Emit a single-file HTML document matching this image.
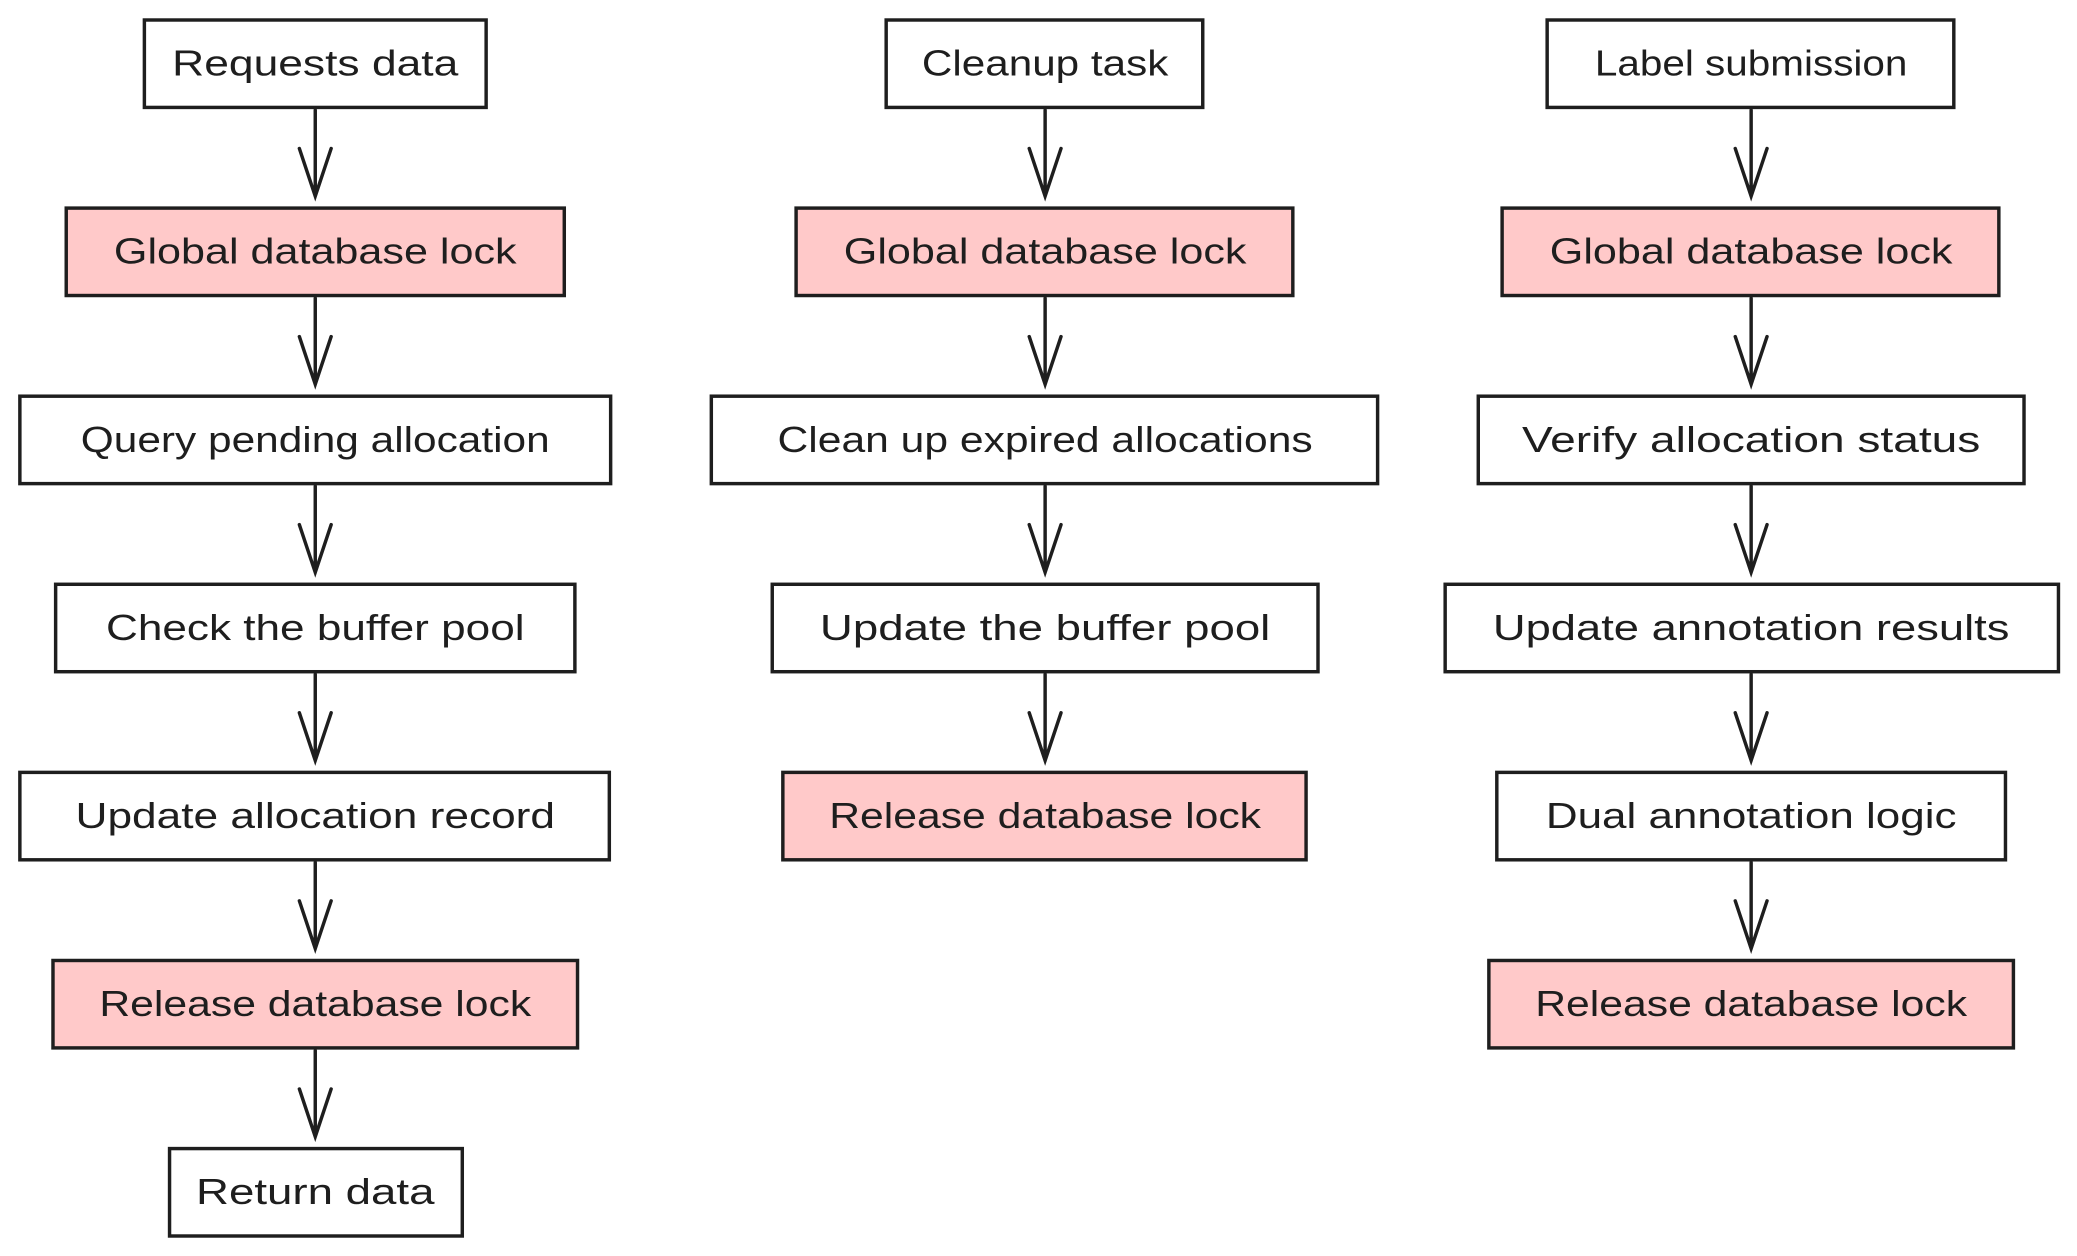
<!DOCTYPE html>
<html><head><meta charset="utf-8"><style>
html,body{margin:0;padding:0;background:#fff;}
svg{display:block}
text{font-family:"Liberation Sans",sans-serif;font-size:27px;fill:#1e1e1e;}
</style></head><body>
<svg width="2077" height="1256" viewBox="0 0 1568 948" xmlns="http://www.w3.org/2000/svg">
<g stroke="#1e1e1e" stroke-width="2.6" fill="#fff">
<rect x="109" y="15" width="258" height="66"/>
<rect x="50" y="157" width="376" height="66" fill="#ffc9c9"/>
<rect x="15" y="299" width="446" height="66"/>
<rect x="42" y="441" width="392" height="66"/>
<rect x="15" y="583" width="445" height="66"/>
<rect x="40" y="725" width="396" height="66" fill="#ffc9c9"/>
<rect x="128" y="867" width="221" height="66"/>
<rect x="669" y="15" width="239" height="66"/>
<rect x="601" y="157" width="375" height="66" fill="#ffc9c9"/>
<rect x="537" y="299" width="503" height="66"/>
<rect x="583" y="441" width="412" height="66"/>
<rect x="591" y="583" width="395" height="66" fill="#ffc9c9"/>
<rect x="1168" y="15" width="307" height="66"/>
<rect x="1134" y="157" width="375" height="66" fill="#ffc9c9"/>
<rect x="1116" y="299" width="412" height="66"/>
<rect x="1091" y="441" width="463" height="66"/>
<rect x="1130" y="583" width="384" height="66"/>
<rect x="1124" y="725" width="396" height="66" fill="#ffc9c9"/>
</g>
<g stroke="#1e1e1e" stroke-width="2.6" fill="none" stroke-linecap="round">
<path d="M238 83V148M226 112L238 148L250 112"/>
<path d="M238 225V290M226 254L238 290L250 254"/>
<path d="M238 367V432M226 396L238 432L250 396"/>
<path d="M238 509V574M226 538L238 574L250 538"/>
<path d="M238 651V716M226 680L238 716L250 680"/>
<path d="M238 793V858M226 822L238 858L250 822"/>
<path d="M789 83V148M777 112L789 148L801 112"/>
<path d="M789 225V290M777 254L789 290L801 254"/>
<path d="M789 367V432M777 396L789 432L801 396"/>
<path d="M789 509V574M777 538L789 574L801 538"/>
<path d="M1322 83V148M1310 112L1322 148L1334 112"/>
<path d="M1322 225V290M1310 254L1322 290L1334 254"/>
<path d="M1322 367V432M1310 396L1322 432L1334 396"/>
<path d="M1322 509V574M1310 538L1322 574L1334 538"/>
<path d="M1322 651V716M1310 680L1322 716L1334 680"/>
</g>
<g text-anchor="middle">
<text x="238" y="57" textLength="216" lengthAdjust="spacingAndGlyphs">Requests data</text>
<text x="238" y="199" textLength="304" lengthAdjust="spacingAndGlyphs">Global database lock</text>
<text x="238" y="341" textLength="354" lengthAdjust="spacingAndGlyphs">Query pending allocation</text>
<text x="238" y="483" textLength="316" lengthAdjust="spacingAndGlyphs">Check the buffer pool</text>
<text x="238" y="625" textLength="362" lengthAdjust="spacingAndGlyphs">Update allocation record</text>
<text x="238" y="767" textLength="326" lengthAdjust="spacingAndGlyphs">Release database lock</text>
<text x="238" y="909" textLength="180" lengthAdjust="spacingAndGlyphs">Return data</text>
<text x="789" y="57" textLength="186" lengthAdjust="spacingAndGlyphs">Cleanup task</text>
<text x="789" y="199" textLength="304" lengthAdjust="spacingAndGlyphs">Global database lock</text>
<text x="789" y="341" textLength="404" lengthAdjust="spacingAndGlyphs">Clean up expired allocations</text>
<text x="789" y="483" textLength="340" lengthAdjust="spacingAndGlyphs">Update the buffer pool</text>
<text x="789" y="625" textLength="326" lengthAdjust="spacingAndGlyphs">Release database lock</text>
<text x="1322" y="57" textLength="236" lengthAdjust="spacingAndGlyphs">Label submission</text>
<text x="1322" y="199" textLength="304" lengthAdjust="spacingAndGlyphs">Global database lock</text>
<text x="1322" y="341" textLength="346" lengthAdjust="spacingAndGlyphs">Verify allocation status</text>
<text x="1322" y="483" textLength="390" lengthAdjust="spacingAndGlyphs">Update annotation results</text>
<text x="1322" y="625" textLength="310" lengthAdjust="spacingAndGlyphs">Dual annotation logic</text>
<text x="1322" y="767" textLength="326" lengthAdjust="spacingAndGlyphs">Release database lock</text>
</g>
</svg>
</body></html>
